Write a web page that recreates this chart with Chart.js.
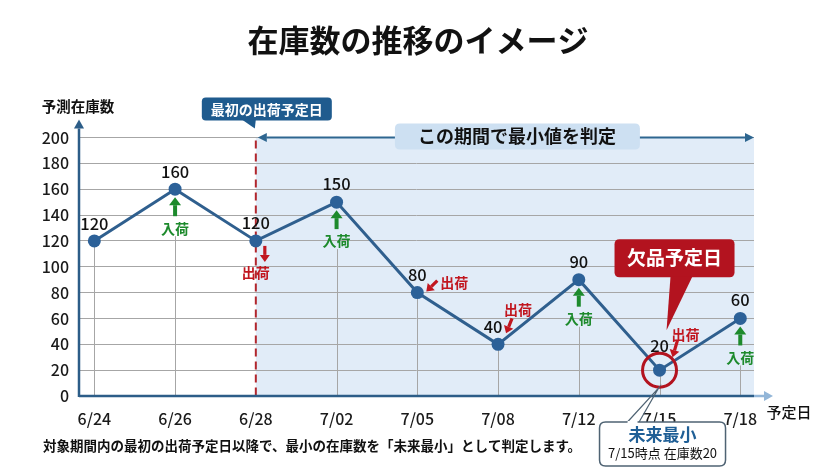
<!DOCTYPE html>
<html lang="ja">
<head>
<meta charset="utf-8">
<title>在庫数の推移のイメージ</title>
<style>
  html, body { margin: 0; padding: 0; background: #fff; }
  #wrap { width: 840px; height: 469px; position: relative; }
</style>
<script src="https://cdn.jsdelivr.net/npm/chart.js@4.4.1/dist/chart.umd.min.js"></script>
</head>
<body>
<div id="wrap"><canvas id="stockChart"></canvas></div>
<script>
// ---- data ----
const dates = ["6/24", "6/26", "6/28", "7/02", "7/05", "7/08", "7/12", "7/15", "7/18"];
const stock = [120, 160, 120, 150, 80, 40, 90, 20, 60];
const moves = ["", "入荷", "出荷", "入荷", "出荷", "出荷", "入荷", "出荷", "入荷"];
const yTicks = [0, 20, 40, 60, 80, 100, 120, 140, 160, 180, 200];
const firstShipIndex = 2; // 最初の出荷予定日
const minIndex = stock.indexOf(Math.min(...stock.slice(firstShipIndex)));

const JP = '"Noto Sans CJK JP", "Noto Sans", sans-serif';
const COL = {
  line: "#2f5f8e",
  point: "#2c6198",
  axis: "#2c5d88",
  grid: "#a6a6a6",
  shade: "#e1ecf8",
  inbound: "#1d8a2c",
  outbound: "#c1161f",
  alert: "#b3131f",
  navy: "#1f5b8e",
};

// where the small texts/arrows sit around each point (px, relative to the point)
const valueShift = [[0, -17], [0, -17], [0, -18], [0, -18], [0, -18], [-5, -18], [0, -18], [0, -24], [0, -19]];
const outLayout = {
  2: { from: [9, 5], to: [9, 21], text: [0, 32] },
  4: { from: [20, -12], to: [9, -1], text: [37, -10] },
  5: { from: [14, -26], to: [8, -11], text: [20, -35] },
  7: { from: [18, -30], to: [13, -13], text: [26, -35] },
};

function font(size, weight) {
  return (weight || "normal") + " " + size + "px " + JP;
}

function rrect(ctx, x, y, w, h, r) {
  ctx.beginPath();
  ctx.moveTo(x + r, y);
  ctx.lineTo(x + w - r, y);
  ctx.quadraticCurveTo(x + w, y, x + w, y + r);
  ctx.lineTo(x + w, y + h - r);
  ctx.quadraticCurveTo(x + w, y + h, x + w - r, y + h);
  ctx.lineTo(x + r, y + h);
  ctx.quadraticCurveTo(x, y + h, x, y + h - r);
  ctx.lineTo(x, y + r);
  ctx.quadraticCurveTo(x, y, x + r, y);
  ctx.closePath();
}

function arrow(ctx, x1, y1, x2, y2, color, w, head, hw) {
  const a = Math.atan2(y2 - y1, x2 - x1);
  const bx = x2 - head * Math.cos(a);
  const by = y2 - head * Math.sin(a);
  ctx.save();
  ctx.strokeStyle = color;
  ctx.fillStyle = color;
  ctx.lineWidth = w;
  ctx.beginPath();
  ctx.moveTo(x1, y1);
  ctx.lineTo(bx, by);
  ctx.stroke();
  ctx.beginPath();
  ctx.moveTo(x2, y2);
  ctx.lineTo(bx + hw * Math.sin(a), by - hw * Math.cos(a));
  ctx.lineTo(bx - hw * Math.sin(a), by + hw * Math.cos(a));
  ctx.closePath();
  ctx.fill();
  ctx.restore();
}

function text(ctx, str, x, y, f, color, align) {
  ctx.font = f;
  ctx.fillStyle = color;
  ctx.textAlign = align || "center";
  ctx.textBaseline = "middle";
  ctx.fillText(str, x, y);
}

const stockAnnotations = {
  id: "stockAnnotations",
  beforeDraw(chart) {
    const { ctx, chartArea: a, scales: { x } } = chart;
    const sx = x.getPixelForValue(firstShipIndex);
    ctx.save();
    ctx.fillStyle = COL.shade;
    ctx.fillRect(sx, a.top, a.right - sx, a.bottom - a.top);
    ctx.restore();
  },
  beforeDatasetsDraw(chart) {
    const { ctx, chartArea: a, scales: { x, y } } = chart;
    ctx.save();
    // drop lines
    ctx.strokeStyle = COL.grid;
    ctx.lineWidth = 1;
    stock.forEach((v, i) => {
      if (i === firstShipIndex) return;
      const px = Math.round(x.getPixelForValue(i)) + 0.5;
      let top = y.getPixelForValue(v);
      if (moves[i] === "入荷") top += 47;
      ctx.beginPath();
      ctx.moveTo(px, top);
      ctx.lineTo(px, a.bottom);
      ctx.stroke();
    });
    // first shipping day
    const sx = x.getPixelForValue(firstShipIndex);
    ctx.strokeStyle = "#b1262d";
    ctx.lineWidth = 2;
    ctx.setLineDash([8, 5]);
    ctx.beginPath();
    ctx.moveTo(sx, a.top + 3);
    ctx.lineTo(sx, a.bottom);
    ctx.stroke();
    ctx.restore();
  },
  afterDatasetsDraw(chart) {
    const { ctx, chartArea: a, scales: { x, y } } = chart;
    ctx.save();

    // axes with arrows
    ctx.strokeStyle = COL.axis;
    ctx.lineWidth = 2.5;
    ctx.beginPath();
    ctx.moveTo(a.left, a.bottom);
    ctx.lineTo(a.right, a.bottom);
    ctx.stroke();
    arrow(ctx, a.right, a.bottom, a.right + 19, a.bottom, "#93b6d8", 2.5, 9, 5);
    arrow(ctx, a.left, a.bottom + 1, a.left, a.top - 18, COL.axis, 2.5, 9, 5);

    // judging period arrow
    const sx = x.getPixelForValue(firstShipIndex);
    arrow(ctx, (sx + a.right) / 2, a.top, sx + 2, a.top, "#2e6690", 2, 9, 4.5);
    arrow(ctx, (sx + a.right) / 2, a.top, a.right, a.top, "#2e6690", 2, 9, 4.5);
    const mid = (sx + a.right) / 2 + 12;
    rrect(ctx, mid - 122, a.top - 14, 245, 26, 5);
    ctx.fillStyle = "#cde0f2";
    ctx.fill();
    text(ctx, "この期間で最小値を判定", mid, a.top - 1, font(18, "bold"), "#111");

    // 最初の出荷予定日 callout
    ctx.fillStyle = COL.navy;
    rrect(ctx, sx - 54, a.top - 40, 130, 23, 4);
    ctx.fill();
    ctx.beginPath();
    ctx.moveTo(sx - 14, a.top - 18);
    ctx.lineTo(sx, a.top - 18);
    ctx.lineTo(sx - 1, a.top - 9);
    ctx.closePath();
    ctx.fill();
    text(ctx, "最初の出荷予定日", sx + 11, a.top - 28, font(14, "bold"), "#fff");

    // value labels + movement marks
    stock.forEach((v, i) => {
      const px = x.getPixelForValue(i);
      const py = y.getPixelForValue(v);
      const s = valueShift[i];
      text(ctx, String(v), px + s[0], py + s[1], font(16.5, "500"), "#111");
      if (moves[i] === "入荷") {
        arrow(ctx, px, py + 27, px, py + 8, COL.inbound, 4, 8, 6);
        text(ctx, "入荷", px, py + 39, font(14, "bold"), COL.inbound);
      } else if (moves[i] === "出荷") {
        const L = outLayout[i];
        arrow(ctx, px + L.from[0], py + L.from[1], px + L.to[0], py + L.to[1], COL.outbound, 3.2, 7, 5);
        text(ctx, "出荷", px + L.text[0], py + L.text[1], font(14, "bold"), COL.outbound);
      }
    });

    // stock-out day
    const mx = x.getPixelForValue(minIndex);
    const my = y.getPixelForValue(stock[minIndex]);
    ctx.strokeStyle = COL.alert;
    ctx.lineWidth = 3;
    ctx.beginPath();
    ctx.arc(mx, my, 17, 0, Math.PI * 2);
    ctx.stroke();

    ctx.fillStyle = COL.alert;
    rrect(ctx, mx - 45, my - 131, 120, 38, 5);
    ctx.fill();
    ctx.beginPath();
    ctx.moveTo(mx + 11, my - 94);
    ctx.lineTo(mx + 33, my - 94);
    ctx.lineTo(mx + 7, my - 40);
    ctx.closePath();
    ctx.fill();
    text(ctx, "欠品予定日", mx + 15, my - 112, font(19, "bold"), "#fff");

    // 未来最小 callout
    const bt = a.bottom + 26;
    ctx.strokeStyle = "#4f6373";
    ctx.lineWidth = 1.2;
    ctx.beginPath();
    ctx.moveTo(mx - 33, bt + 1);
    ctx.lineTo(mx - 1, my + 18);
    ctx.lineTo(mx - 21, bt + 1);
    ctx.stroke();
    rrect(ctx, mx - 60, bt, 126, 44, 6);
    ctx.fillStyle = "#fff";
    ctx.fill();
    ctx.lineWidth = 1.5;
    ctx.stroke();
    ctx.fillStyle = "#fff";
    ctx.fillRect(mx - 32, bt - 1, 10, 3);
    text(ctx, "未来最小", mx + 3, bt + 13, font(17, "bold"), "#1f5f96");
    text(ctx, "7/15時点 在庫数20", mx + 3, bt + 31, font(13), "#111");

    ctx.restore();
  },
  afterDraw(chart) {
    const { ctx, chartArea: a } = chart;
    ctx.save();
    text(ctx, "在庫数の推移のイメージ", 418, 40, font(31, "bold"), "#111");
    text(ctx, "予測在庫数", a.left - 1, 106, font(14.5, "bold"), "#111");
    text(ctx, "予定日", a.right + 35, 412, font(15, "500"), "#111");
    text(ctx, "対象期間内の最初の出荷予定日以降で、最小の在庫数を「未来最小」として判定します。", 43, 446, font(13.5, "bold"), "#111", "left");
    ctx.restore();
  },
};

new Chart(document.getElementById("stockChart"), {
  type: "line",
  data: {
    datasets: [{
      data: stock.map((v, i) => ({ x: i, y: v })),
      borderColor: COL.line,
      borderWidth: 3,
      pointRadius: 6.5,
      pointBackgroundColor: COL.point,
      pointBorderColor: COL.point,
      pointBorderWidth: 0,
      tension: 0,
      clip: false,
    }],
  },
  options: {
    responsive: true,
    maintainAspectRatio: false,
    animation: false,
    layout: { padding: { top: 137.5, right: 86, bottom: 0, left: 0 } },
    plugins: { legend: { display: false }, tooltip: { enabled: false } },
    scales: {
      x: {
        type: "linear",
        min: -0.19,
        max: 8.17,
        afterBuildTicks: (s) => { s.ticks = dates.map((_, i) => ({ value: i })); },
        afterFit: (s) => { s.height = 73; },
        grid: { display: false },
        border: { display: false },
        ticks: {
          callback: (v) => dates[v] ?? "",
          font: { family: JP, size: 16, weight: "500" },
          color: "#1a1a1a",
          padding: 5,
          maxRotation: 0,
          autoSkip: false,
        },
      },
      y: {
        min: 0,
        max: 200,
        afterBuildTicks: (s) => { s.ticks = yTicks.map((v) => ({ value: v })); },
        afterFit: (s) => { s.width = 79; },
        grid: { color: COL.grid, lineWidth: 1, drawTicks: false },
        border: { display: false },
        ticks: {
          font: { family: JP, size: 16, weight: "500" },
          color: "#1a1a1a",
          padding: 10,
        },
      },
    },
  },
  plugins: [stockAnnotations],
});
</script>
</body>
</html>
